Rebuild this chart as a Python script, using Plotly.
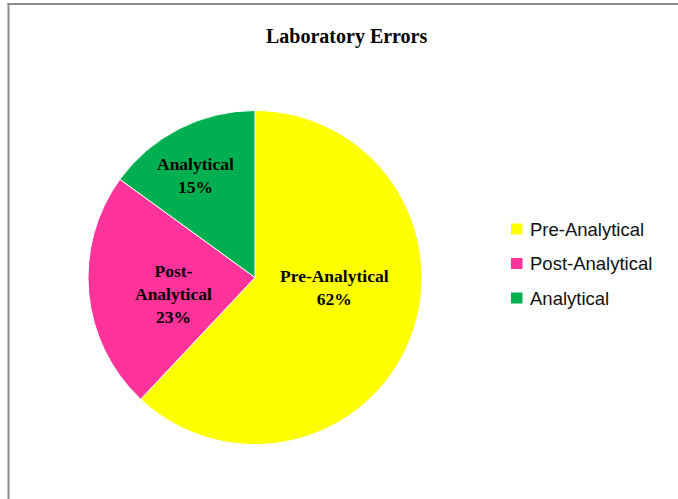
import plotly.graph_objects as go

# ---- data ----
categories = ["Pre-Analytical", "Post-Analytical", "Analytical"]
values = [62, 23, 15]
slice_text = ["Pre-Analytical", "Post-<br>Analytical", "Analytical"]
colors = ["#FFFF00", "#FF3399", "#00B050"]
title_text = "Laboratory Errors"

# ---- layout geometry (pixels) ----
W, H = 678, 499
cx, cy, r = 255, 277.5, 167
label_pos = [(334, 287.5), (173, 294), (195, 175)]
legend_x, legend_y0, legend_step = 511, 229, 34.5


def px(x):
    return x / W


def py(y):
    return 1 - y / H


total = sum(values)

fig = go.Figure(
    go.Pie(
        labels=categories,
        values=values,
        sort=False,
        direction="clockwise",
        rotation=0,
        marker=dict(colors=colors, line=dict(color="white", width=1)),
        textinfo="none",
        hoverinfo="label+percent",
        domain=dict(x=[px(cx - r), px(cx + r)], y=[py(cy + r), py(cy - r)]),
        showlegend=False,
    )
)

annotations = []
shapes = []

# title
annotations.append(dict(
    text=title_text, x=px(346.5), y=py(37), xref="paper", yref="paper",
    xanchor="center", yanchor="middle", showarrow=False,
    font=dict(family="Liberation Serif", size=20, color="black", weight="bold"),
))

# slice labels
for txt, v, (lx, ly) in zip(slice_text, values, label_pos):
    pct = round(100 * v / total)
    annotations.append(dict(
        text=f"{txt}<br>{pct}%", x=px(lx), y=py(ly), xref="paper", yref="paper",
        xanchor="center", yanchor="middle", showarrow=False, align="center",
        font=dict(family="Liberation Serif", size=17.5, color="black", weight="bold"),
    ))

# legend (manual)
for i, (cat, col) in enumerate(zip(categories, colors)):
    yc = legend_y0 + i * legend_step
    shapes.append(dict(
        type="rect", xref="paper", yref="paper",
        x0=px(legend_x), x1=px(legend_x + 11.5), y0=py(yc + 5.5), y1=py(yc - 5.5),
        fillcolor=col, line=dict(width=0),
    ))
    annotations.append(dict(
        text=cat, x=px(legend_x + 16.5), y=py(yc), xref="paper", yref="paper",
        xanchor="left", yanchor="middle", showarrow=False,
        font=dict(family="Liberation Sans", size=18.5, color="#111111"),
    ))

# chart frame (top and left edges; right/bottom lie outside the picture)
frame = dict(color="#8C8C8C", width=2)
shapes.append(dict(type="line", xref="paper", yref="paper",
                   x0=px(7.5), x1=1, y0=py(4), y1=py(4), line=frame))
shapes.append(dict(type="line", xref="paper", yref="paper",
                   x0=px(8.5), x1=px(8.5), y0=0, y1=py(3), line=frame))

fig.update_layout(
    width=W, height=H,
    margin=dict(l=0, r=0, t=0, b=0),
    paper_bgcolor="white",
    plot_bgcolor="white",
    annotations=annotations,
    shapes=shapes,
    showlegend=False,
)

fig.write_html(
    "out.html",
    config={"displayModeBar": False},
    post_script="document.body.style.margin='0';document.body.style.overflow='hidden';",
)
